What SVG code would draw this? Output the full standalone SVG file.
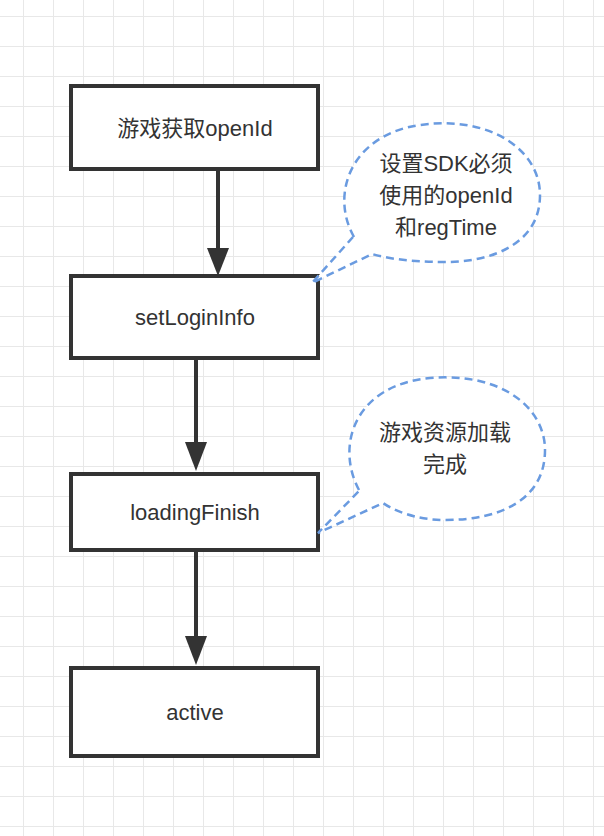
<svg xmlns="http://www.w3.org/2000/svg" width="604" height="836" viewBox="0 0 604 836">
<defs>
<pattern id="g" x="23" y="16" width="30" height="30" patternUnits="userSpaceOnUse">
<path d="M0 0V30M0 0H30" fill="none" stroke="#e8e8e8" stroke-width="2"/>
</pattern>
<marker id="a" markerWidth="8" markerHeight="8" refX="4" refY="7" orient="auto" markerUnits="userSpaceOnUse" viewBox="0 0 8 8"><path d="M0 0L8 0L4 8z" fill="#333"/></marker>
</defs>
<style>
.b{fill:#fff;stroke:#333;stroke-width:4}
.t{font-family:"Liberation Sans","Noto Sans CJK SC",sans-serif;font-size:22px;fill:#333;text-anchor:middle}
.c{fill:#fff;stroke:#6a9be0;stroke-width:2.5;stroke-dasharray:8 5}
.l{stroke:#333;stroke-width:4;fill:none}
</style>
<rect width="604" height="836" fill="#fff"/>
<rect width="604" height="836" fill="url(#g)"/>
<g id="connectors">
<path class="l" d="M218 170V252"/><path d="M207 248L229 248L218 276z" fill="#333"/>
<path class="l" d="M196 359V446"/><path d="M185 442L207 442L196 471z" fill="#333"/>
<path class="l" d="M196 551V640"/><path d="M185 636L207 636L196 665z" fill="#333"/>
</g>
<g id="n1"><rect class="b" x="71" y="86" width="247" height="83"/><text class="t" x="195" y="136">游戏获取openId</text></g>
<g id="n2"><rect class="b" x="71" y="276" width="247" height="82"/><text class="t" x="195" y="325">setLoginInfo</text></g>
<g id="n3"><rect class="b" x="71" y="474" width="247" height="76"/><text class="t" x="195" y="520">loadingFinish</text></g>
<g id="n4"><rect class="b" x="71" y="668" width="247" height="88"/><text class="t" x="195" y="720">active</text></g>
<g id="callout1"><path class="c" d="M354 237C330 195 350 135 420 125C490 115 540 150 540 195C540 245 490 262 445 262C410 262 385 258 372 254L312 283L353 237z"/>
<text class="t" x="446" y="171">设置SDK必须</text><text class="t" x="446" y="203">使用的openId</text><text class="t" x="446" y="235">和regTime</text></g>
<g id="callout2"><path class="c" d="M359 490C335 445 355 385 430 378C505 372 545 410 545 450C545 500 500 520 445 520C415 520 393 510 383 503L318 533L360 490z"/>
<text class="t" x="445" y="440">游戏资源加载</text><text class="t" x="445" y="472">完成</text></g>
</svg>
